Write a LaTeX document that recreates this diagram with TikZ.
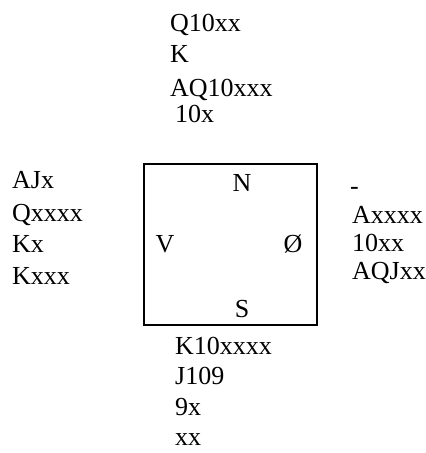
\documentclass[tikz,border=0pt]{standalone}
\usepackage{fontspec}
\setmainfont{Liberation Serif}
\begin{document}
\begin{tikzpicture}[x=1pt,y=1pt,
  hand/.style={anchor=base west,inner sep=0pt,font=\fontsize{26}{28}\selectfont},
  seat/.style={anchor=base,inner sep=0pt,font=\fontsize{26}{28}\selectfont}]
\useasboundingbox (0,0) rectangle (426,453);
% table
\node[draw,line width=2.5pt,minimum width=173pt,minimum height=161pt,inner sep=0pt] (table) at (230.5,208.5) {};
\node[seat] (N) at (242,261) {N};
\node[seat] (V) at (165,200) {V};
\node[seat] (E) at (293,200) {Ø};
\node[seat] (S) at (242,135) {S};
% North
\node[hand] (n1) at (170,421) {Q10xx};
\node[hand] (n2) at (170,390) {K};
\node[hand] (n3) at (170,356) {AQ10xxx};
\node[hand] (n4) at (175,330) {10x};
% West
\node[hand] (w1) at (12,264) {AJx};
\node[hand] (w2) at (12,231) {Qxxxx};
\node[hand] (w3) at (12,200) {Kx};
\node[hand] (w4) at (12,168) {Kxxx};
% East
\node[hand] (e1) at (350,258) {-};
\node[hand] (e2) at (352,229) {Axxxx};
\node[hand] (e3) at (352,201) {10xx};
\node[hand] (e4) at (352,173) {AQJxx};
% South
\node[hand] (s1) at (175,98) {K10xxxx};
\node[hand] (s2) at (175,68) {J109};
\node[hand] (s3) at (175,37) {9x};
\node[hand] (s4) at (175,7) {xx};
\end{tikzpicture}
\end{document}
